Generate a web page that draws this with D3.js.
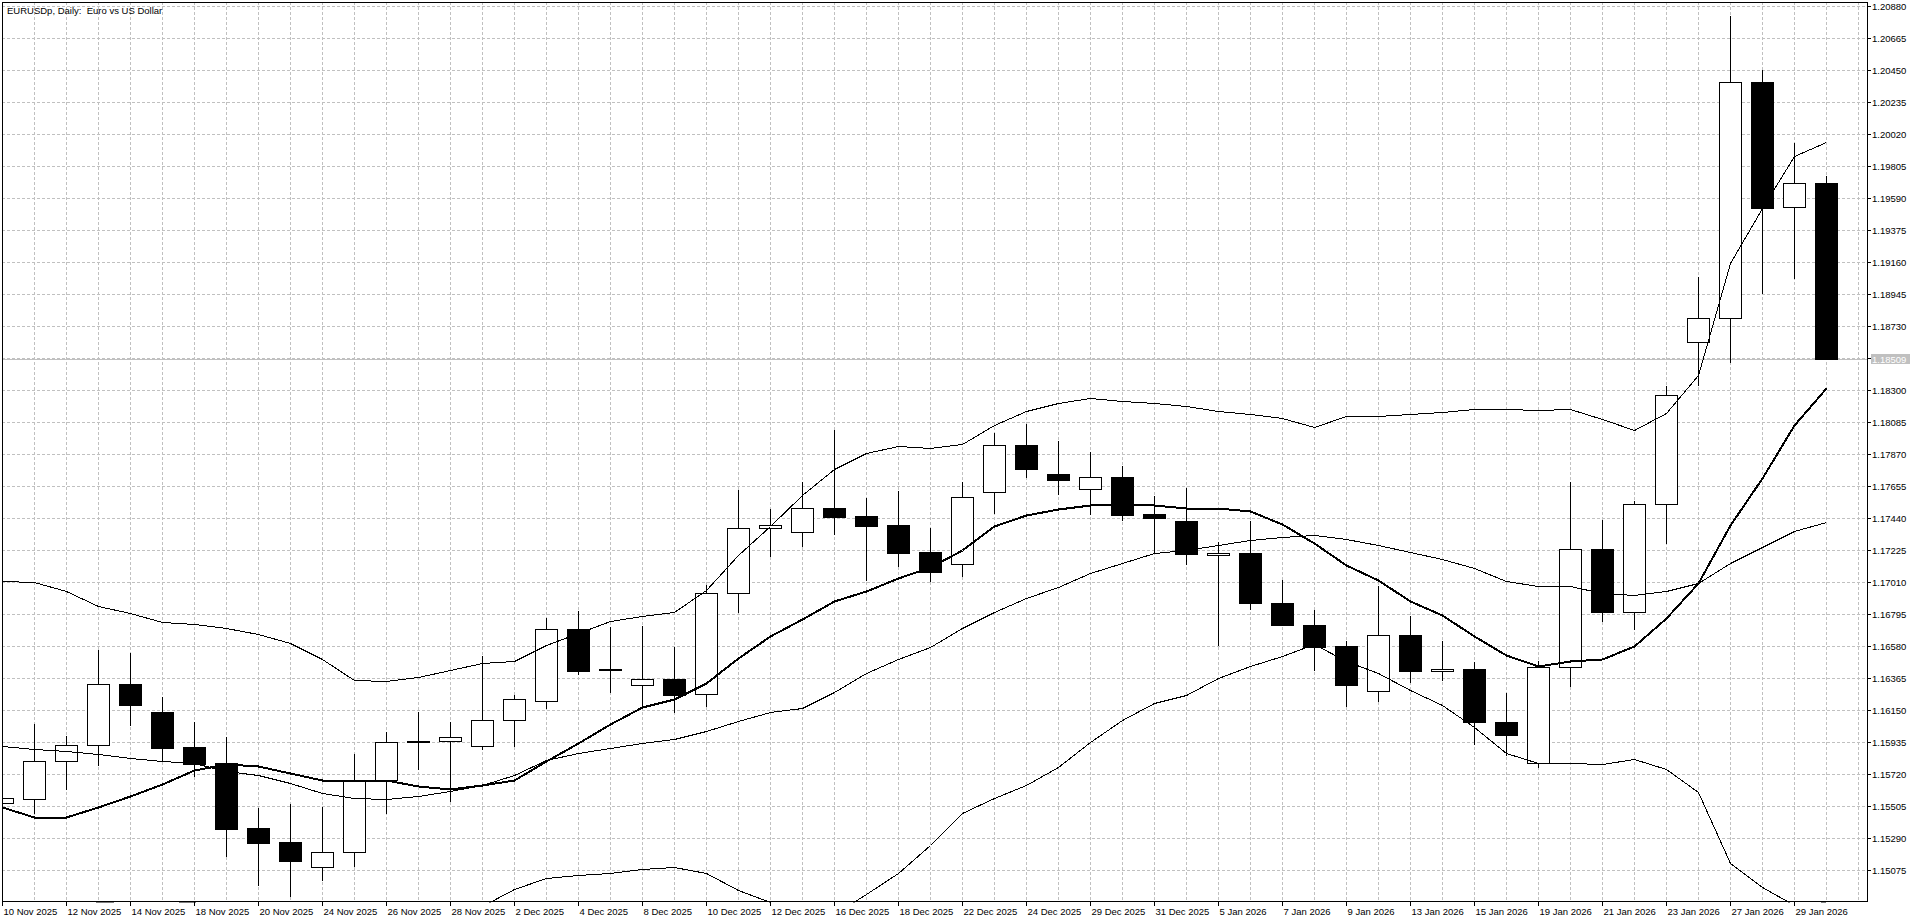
<!DOCTYPE html>
<html>
<head>
<meta charset="utf-8">
<script src="https://cdn.jsdelivr.net/npm/d3@7"></script>
<style>
  body { margin: 0; background: #fff; overflow: hidden; }
  text { font-family: "Liberation Sans", Arial, sans-serif; font-size: 9.5px; }
</style>
</head>
<body>
<script>
// Trading days shown on the chart
var days = [
  '10 Nov 2025','11 Nov 2025','12 Nov 2025','13 Nov 2025','14 Nov 2025',
  '17 Nov 2025','18 Nov 2025','19 Nov 2025','20 Nov 2025','21 Nov 2025',
  '24 Nov 2025','25 Nov 2025','26 Nov 2025','27 Nov 2025','28 Nov 2025',
  '1 Dec 2025','2 Dec 2025','3 Dec 2025','4 Dec 2025','5 Dec 2025',
  '8 Dec 2025','9 Dec 2025','10 Dec 2025','11 Dec 2025','12 Dec 2025',
  '15 Dec 2025','16 Dec 2025','17 Dec 2025','18 Dec 2025','19 Dec 2025',
  '22 Dec 2025','23 Dec 2025','24 Dec 2025','26 Dec 2025',
  '29 Dec 2025','30 Dec 2025','31 Dec 2025','2 Jan 2026',
  '5 Jan 2026','6 Jan 2026','7 Jan 2026','8 Jan 2026','9 Jan 2026',
  '12 Jan 2026','13 Jan 2026','14 Jan 2026','15 Jan 2026','16 Jan 2026',
  '19 Jan 2026','20 Jan 2026','21 Jan 2026','22 Jan 2026','23 Jan 2026',
  '26 Jan 2026','27 Jan 2026','28 Jan 2026','29 Jan 2026','30 Jan 2026'
];

// OHLC prices
var open = [
  1.15529,1.15556,1.15807,1.15915,1.16325,1.16139,1.15904,1.15796,1.15359,1.15265,
  1.15095,1.15196,1.15685,1.15942,1.15944,1.15910,1.16085,1.16212,1.16696,1.16430,
  1.16320,1.16362,1.16259,1.16938,1.17375,1.17346,1.17509,1.17456,1.17395,1.17214,
  1.17131,1.17615,1.17930,1.17736,1.17637,1.17715,1.17468,1.17424,1.17191,1.17207,
  1.16871,1.16723,1.16584,1.16280,1.16656,1.16414,1.16427,1.16074,1.15796,1.16439,
  1.17232,1.16813,1.17534,1.18622,1.18783,1.20369,1.19529,1.19691
];
var high = [
  1.15600,1.16067,1.15986,1.16562,1.16544,1.16246,1.16078,1.15980,1.15500,1.15525,
  1.15507,1.15865,1.16013,1.16143,1.16080,1.16521,1.16262,1.16779,1.16826,1.16719,
  1.16725,1.16580,1.17001,1.17637,1.17507,1.17693,1.18040,1.17585,1.17630,1.17384,
  1.17691,1.18020,1.18083,1.17966,1.17892,1.17798,1.17599,1.17650,1.17285,1.17431,
  1.17034,1.16833,1.16625,1.16990,1.16788,1.16625,1.16479,1.16275,1.16486,1.17691,
  1.17435,1.17563,1.18335,1.19068,1.20822,1.20459,1.19968,1.19749
];
var low = [
  1.15480,1.15458,1.15621,1.15785,1.16054,1.15807,1.15711,1.15171,1.14976,1.14902,
  1.15010,1.15104,1.15461,1.15758,1.15538,1.15890,1.15908,1.16163,1.16396,1.16273,
  1.16172,1.16141,1.16181,1.16808,1.17189,1.17256,1.17335,1.17025,1.17122,1.17021,
  1.17055,1.17478,1.17720,1.17603,1.17469,1.17426,1.17206,1.17131,1.16587,1.16833,
  1.16721,1.16418,1.16177,1.16210,1.16340,1.16351,1.15926,1.15852,1.15769,1.16315,
  1.16750,1.16699,1.17276,1.18335,1.18492,1.18956,1.19057,1.18509
];
var close = [
  1.15558,1.15807,1.15915,1.16325,1.16188,1.15899,1.15789,1.15355,1.15261,1.15140,
  1.15196,1.15682,1.15935,1.15935,1.15970,1.16085,1.16226,1.16696,1.16412,1.16420,
  1.16360,1.16250,1.16938,1.17375,1.17393,1.17507,1.17451,1.17391,1.17209,1.17081,
  1.17581,1.17930,1.17769,1.17695,1.17715,1.17464,1.17440,1.17198,1.17207,1.16869,
  1.16721,1.16573,1.16318,1.16656,1.16414,1.16427,1.16069,1.15982,1.16441,1.17232,
  1.16813,1.17534,1.18266,1.18783,1.20369,1.19527,1.19691,1.18509
];

// Moving average (thick line)
var movingAverage = [
  1.15502,1.15435,1.15435,1.15502,1.15576,1.15655,1.15749,1.15789,1.15778,1.15726,
  1.15682,1.15682,1.15685,1.15639,1.15623,1.15646,1.15684,1.15807,1.15930,1.16060,
  1.16172,1.16226,1.16333,1.16501,1.16647,1.16761,1.16887,1.16954,1.17037,1.17115,
  1.17227,1.17391,1.17462,1.17500,1.17529,1.17534,1.17529,1.17512,1.17509,1.17491,
  1.17404,1.17274,1.17124,1.17028,1.16882,1.16788,1.16651,1.16524,1.16450,1.16481,
  1.16492,1.16584,1.16768,1.17003,1.17395,1.17709,1.18067,1.18313
];

// Bollinger bands (thin lines)
var bandUpper = [
  1.17021,1.17010,1.16952,1.16849,1.16802,1.16741,1.16728,1.16701,1.16663,1.16600,
  1.16497,1.16354,1.16345,1.16374,1.16423,1.16468,1.16483,1.16589,1.16669,1.16748,
  1.16786,1.16813,1.16960,1.17196,1.17386,1.17597,1.17769,1.17881,1.17926,1.17910,
  1.17939,1.18067,1.18161,1.18217,1.18246,1.18231,1.18213,1.18195,1.18159,1.18138,
  1.18111,1.18054,1.18127,1.18125,1.18139,1.18151,1.18174,1.18171,1.18167,1.18174,
  1.18105,1.18033,1.18150,1.18403,1.19153,1.19523,1.19874,1.19971
];
var bandMiddle = [
  1.15912,1.15890,1.15879,1.15854,1.15832,1.15809,1.15794,1.15744,1.15715,1.15659,
  1.15592,1.15558,1.15554,1.15576,1.15610,1.15650,1.15713,1.15818,1.15863,1.15896,
  1.15930,1.15957,1.16008,1.16076,1.16138,1.16163,1.16275,1.16398,1.16492,1.16577,
  1.16701,1.16813,1.16902,1.16981,1.17070,1.17142,1.17205,1.17225,1.17263,1.17292,
  1.17314,1.17326,1.17303,1.17263,1.17214,1.17167,1.17106,1.17017,1.16983,1.16985,
  1.16940,1.16925,1.16952,1.17003,1.17138,1.17245,1.17357,1.17418
];
var bandLower = [
  1.14803,1.14770,1.14806,1.14859,1.14866,1.14872,1.14862,1.14787,1.14767,1.14718,
  1.14687,1.14762,1.14763,1.14778,1.14797,1.14832,1.14949,1.15023,1.15043,1.15057,
  1.15086,1.15097,1.15057,1.14945,1.14862,1.14729,1.14781,1.14915,1.15058,1.15244,
  1.15463,1.15559,1.15648,1.15771,1.15939,1.16085,1.16201,1.16255,1.16367,1.16446,
  1.16517,1.16598,1.16479,1.16401,1.16289,1.16183,1.16038,1.15863,1.15796,1.15793,
  1.15789,1.15820,1.15753,1.15603,1.15122,1.14965,1.14840,1.14865
];

// Price scale labels
var priceTicks = [
  1.20880,1.20665,1.20450,1.20235,1.20020,1.19805,1.19590,1.19375,1.19160,1.18945,
  1.18730,1.18515,1.18300,1.18085,1.17870,1.17655,1.17440,1.17225,1.17010,1.16795,
  1.16580,1.16365,1.16150,1.15935,1.15720,1.15505,1.15290,1.15075
];
var lastPrice = 1.18509;

var width = 1920, height = 923;
var plot = {left: 2, top: 2, right: 1867, bottom: 901};

var x = d3.scaleLinear().domain([0, 58]).range([2, 1858]);
var y = d3.scaleLinear().domain([1.15075, 1.20880]).range([870.3, 6.3]);

// Pixel-snapped helpers
function px(i) { return Math.round(x(i)) + 0.5; }
function py(v) { return Math.round(y(v)) + 0.5; }

var svg = d3.select('body').append('svg')
  .attr('width', width)
  .attr('height', height)
  .style('display', 'block');

svg.append('rect')
  .attr('width', width)
  .attr('height', height)
  .attr('fill', '#fff');

svg.append('clipPath').attr('id', 'plot-clip')
  .append('rect')
  .attr('x', plot.left)
  .attr('y', plot.top)
  .attr('width', plot.right - plot.left)
  .attr('height', plot.bottom - plot.top + 1.5);

// Grid
var grid = svg.append('g')
  .attr('class', 'grid')
  .attr('stroke', '#c0c0c0')
  .attr('stroke-dasharray', '3,2')
  .attr('shape-rendering', 'crispEdges');

grid.selectAll('line.h')
  .data(priceTicks)
  .enter().append('line')
  .attr('class', 'h')
  .attr('x1', plot.left)
  .attr('x2', plot.right)
  .attr('y1', function(d) { return py(d); })
  .attr('y2', function(d) { return py(d); });

grid.selectAll('line.v')
  .data(d3.range(1, days.length + 1))
  .enter().append('line')
  .attr('class', 'v')
  .attr('x1', function(i) { return px(i); })
  .attr('x2', function(i) { return px(i); })
  .attr('y1', plot.top)
  .attr('y2', plot.bottom);

// Current price line
svg.append('line')
  .attr('x1', plot.left)
  .attr('x2', plot.right)
  .attr('y1', py(lastPrice))
  .attr('y2', py(lastPrice))
  .attr('stroke', '#c0c0c0')
  .attr('shape-rendering', 'crispEdges');

var chart = svg.append('g').attr('clip-path', 'url(#plot-clip)');

// Candles
var candles = chart.selectAll('g.candle')
  .data(days)
  .enter().append('g')
  .attr('class', 'candle')
  .attr('shape-rendering', 'crispEdges');

candles.append('line')
  .attr('x1', function(d, i) { return px(i); })
  .attr('x2', function(d, i) { return px(i); })
  .attr('y1', function(d, i) { return py(high[i]); })
  .attr('y2', function(d, i) { return py(low[i]); })
  .attr('stroke', '#000');

candles.append('rect')
  .attr('x', function(d, i) { return px(i) - 11; })
  .attr('width', 22)
  .attr('y', function(d, i) { return py(Math.max(open[i], close[i])); })
  .attr('height', function(d, i) {
    return Math.max(1, py(Math.min(open[i], close[i])) - py(Math.max(open[i], close[i])));
  })
  .attr('fill', function(d, i) { return close[i] >= open[i] ? '#fff' : '#000'; })
  .attr('stroke', '#000');

// Indicator lines, drawn aliased like the terminal does
var line = d3.line()
  .x(function(d, i) { return px(i); })
  .y(function(d) { return py(d); });

[bandUpper, bandMiddle, bandLower].forEach(function(series) {
  chart.append('path')
    .attr('d', line(series))
    .attr('fill', 'none')
    .attr('stroke', '#000')
    .attr('stroke-width', 1)
    .attr('shape-rendering', 'crispEdges');
});

chart.append('path')
  .attr('d', line(movingAverage))
  .attr('fill', 'none')
  .attr('stroke', '#000')
  .attr('stroke-width', 2)
  .attr('shape-rendering', 'crispEdges');

// Frame
svg.append('rect')
  .attr('x', plot.left + 0.5)
  .attr('y', plot.top + 0.5)
  .attr('width', plot.right - plot.left)
  .attr('height', plot.bottom - plot.top)
  .attr('fill', 'none')
  .attr('stroke', '#000')
  .attr('shape-rendering', 'crispEdges');

// Title
svg.append('text')
  .attr('x', 7)
  .attr('y', 14)
  .attr('xml:space', 'preserve')
  .style('white-space', 'pre')
  .text('EURUSDp, Daily:  Euro vs US Dollar');

// Price axis
var priceAxis = svg.append('g').attr('class', 'price-axis');
var shownTicks = priceTicks.filter(function(v) { return Math.abs(v - lastPrice) > 0.001; });

priceAxis.selectAll('line')
  .data(priceTicks)
  .enter().append('line')
  .attr('x1', plot.right)
  .attr('x2', plot.right + 4)
  .attr('y1', function(d) { return py(d); })
  .attr('y2', function(d) { return py(d); })
  .attr('stroke', '#000')
  .attr('shape-rendering', 'crispEdges');

priceAxis.selectAll('text')
  .data(shownTicks)
  .enter().append('text')
  .attr('x', plot.right + 5)
  .attr('y', function(d) { return py(d) + 3.5; })
  .text(function(d) { return d.toFixed(5); });

// Current price label
svg.append('rect')
  .attr('x', plot.right + 4)
  .attr('y', py(lastPrice) - 5.5)
  .attr('width', 39)
  .attr('height', 10)
  .attr('fill', '#c0c0c0');
svg.append('text')
  .attr('x', plot.right + 5)
  .attr('y', py(lastPrice) + 3.5)
  .attr('fill', '#fff')
  .text(lastPrice.toFixed(5));

// Time axis: a label every second bar
var timeAxis = svg.append('g').attr('class', 'time-axis');
var labelled = d3.range(0, days.length, 2);

timeAxis.selectAll('line')
  .data(labelled)
  .enter().append('line')
  .attr('x1', function(i) { return px(i); })
  .attr('x2', function(i) { return px(i); })
  .attr('y1', plot.bottom)
  .attr('y2', plot.bottom + 5)
  .attr('stroke', '#000')
  .attr('shape-rendering', 'crispEdges');

timeAxis.selectAll('text')
  .data(labelled)
  .enter().append('text')
  .attr('x', function(i) { return px(i) + 1; })
  .attr('y', 915)
  .text(function(i) { return days[i]; });
</script>
</body>
</html>
